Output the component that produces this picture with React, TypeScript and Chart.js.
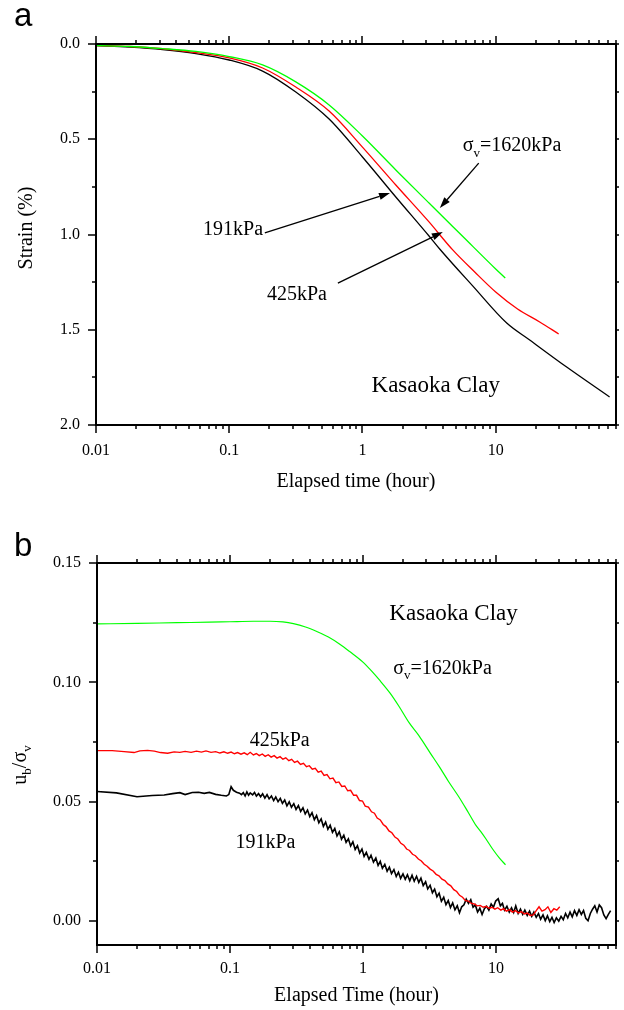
import React, { useEffect, useRef } from 'react';
import { Chart, registerables } from 'chart.js';
Chart.register(...registerables);

const SERIF = '"Liberation Serif", "Times New Roman", serif';
const SANS = '"Liberation Sans", Arial, sans-serif';
const GREEN = '#00ff00';
const RED = '#ff0000';
const BLACK = '#000000';

// ---- axis ticks ----
const xMajorTicks = [0.01, 0.1, 1, 10];
const xMinorTicks = [0.02, 0.03, 0.04, 0.05, 0.06, 0.07, 0.08, 0.09, 0.2, 0.3, 0.4, 0.5, 0.6, 0.7, 0.8, 0.9, 2, 3, 4, 5, 6, 7, 8, 9, 20, 30, 40, 50, 60, 70, 80];
const strainTicks = [0, 0.5, 1, 1.5, 2];
const strainMinorTicks = [0.25, 0.75, 1.25, 1.75];
const ratioTicks = [0, 0.05, 0.1, 0.15];
const ratioMinorTicks = [0.025, 0.075, 0.125];

// ---- panel a: strain (%) vs elapsed time (hour) ----
const aTime1620 = [0.01, 0.0178, 0.0316, 0.0562, 0.1, 0.178, 0.316, 0.562, 1, 1.78, 3.16, 5.62, 10, 11.8];
const aStrain1620 = [0.008, 0.013, 0.024, 0.039, 0.066, 0.11, 0.199, 0.32, 0.483, 0.661, 0.835, 1.008, 1.181, 1.228];
const aTime425 = [0.01, 0.0178, 0.0316, 0.0562, 0.1, 0.178, 0.316, 0.562, 1, 1.78, 3.16, 4.76, 6.96, 10, 14.6, 21.4, 29.7];
const aStrain425 = [0.008, 0.013, 0.025, 0.045, 0.073, 0.126, 0.226, 0.352, 0.541, 0.74, 0.934, 1.081, 1.197, 1.302, 1.391, 1.459, 1.522];
const aTime191 = [0.01, 0.0178, 0.0316, 0.0562, 0.1, 0.178, 0.316, 0.562, 1, 1.78, 3.16, 3.8, 6.72, 12.1, 18.0, 34.1, 71.6];
const aStrain191 = [0.008, 0.016, 0.029, 0.05, 0.084, 0.142, 0.252, 0.394, 0.593, 0.803, 1.008, 1.076, 1.27, 1.465, 1.554, 1.696, 1.853];

// ---- panel b: ub/σv vs elapsed time (hour) ----
const bTime1620 = [0.01, 0.02, 0.04, 0.07, 0.1, 0.15, 0.2, 0.25, 0.3, 0.37, 0.45, 0.55, 0.67, 0.8, 1, 1.15, 1.33, 1.6, 1.87, 2.23, 2.65, 3.2, 3.74, 4.4, 5.27, 6.2, 7.1, 7.7, 8.4, 9.5, 10.6, 11.8];
const bRatio1620 = [0.1245, 0.1247, 0.125, 0.1252, 0.1254, 0.1256, 0.1256, 0.1253, 0.1246, 0.1232, 0.1213, 0.119, 0.116, 0.1128, 0.1085, 0.105, 0.101, 0.0955, 0.0899, 0.083, 0.0775, 0.0705, 0.0648, 0.0585, 0.052, 0.0455, 0.04, 0.0375, 0.0345, 0.03, 0.0265, 0.0236];

const bTime425 = [0.01, 0.013, 0.016, 0.019, 0.021, 0.024, 0.027, 0.03, 0.034, 0.038, 0.042, 0.046, 0.051, 0.056, 0.061, 0.066, 0.072, 0.078, 0.084, 0.09, 0.096, 0.102, 0.108, 0.114, 0.121, 0.128, 0.135, 0.142, 0.15, 0.158, 0.166, 0.175, 0.184, 0.194, 0.204, 0.215, 0.226, 0.238, 0.25, 0.263, 0.277, 0.291, 0.306, 0.322, 0.339, 0.357, 0.376, 0.395, 0.416, 0.438, 0.461, 0.485, 0.51, 0.537, 0.565, 0.595, 0.626, 0.659, 0.693, 0.73, 0.768, 0.808, 0.851, 0.895, 0.942, 0.992, 1.04, 1.1, 1.16, 1.22, 1.28, 1.35, 1.42, 1.49, 1.57, 1.65, 1.74, 1.83, 1.93, 2.03, 2.13, 2.24, 2.36, 2.48, 2.61, 2.75, 2.89, 3.04, 3.2, 3.37, 3.55, 3.73, 3.93, 4.13, 4.35, 4.58, 4.82, 5.07, 5.33, 5.61, 5.9, 6.21, 6.54, 6.88, 7.24, 7.62, 8.02, 8.44, 8.88, 9.34, 9.83, 10.3, 10.9, 11.4, 12.0, 12.7, 13.3, 14.0, 14.8, 15.5, 16.4, 17.2, 18.1, 19.1, 20.1, 21.1, 22.2, 23.4, 24.6, 25.9, 27.3, 28.7, 30.2];
const bRatio425 = [0.0714, 0.0714, 0.071, 0.0706, 0.0713, 0.0715, 0.0712, 0.0706, 0.0703, 0.0709, 0.0707, 0.0711, 0.0707, 0.0712, 0.0708, 0.0713, 0.0707, 0.071, 0.0704, 0.0709, 0.0703, 0.0708, 0.0701, 0.0706, 0.0699, 0.0705, 0.0697, 0.0707, 0.0696, 0.0702, 0.0693, 0.07, 0.069, 0.0697, 0.0687, 0.0693, 0.0683, 0.0689, 0.0678, 0.0684, 0.0672, 0.0678, 0.0665, 0.067, 0.0656, 0.0661, 0.0647, 0.0651, 0.0636, 0.064, 0.0624, 0.0628, 0.061, 0.0614, 0.0596, 0.0599, 0.058, 0.0583, 0.0564, 0.0566, 0.0546, 0.0548, 0.0527, 0.0527, 0.0505, 0.0503, 0.0482, 0.0478, 0.0458, 0.0452, 0.0432, 0.0424, 0.0405, 0.0396, 0.0378, 0.037, 0.0352, 0.0344, 0.0326, 0.0318, 0.0302, 0.0296, 0.028, 0.0274, 0.026, 0.0252, 0.0238, 0.023, 0.0218, 0.021, 0.0196, 0.019, 0.0176, 0.017, 0.0156, 0.0148, 0.0132, 0.0124, 0.0108, 0.01, 0.0086, 0.0084, 0.0074, 0.0072, 0.0064, 0.0066, 0.0058, 0.0062, 0.0054, 0.0058, 0.005, 0.0056, 0.0046, 0.0052, 0.0042, 0.0048, 0.0038, 0.0044, 0.0034, 0.004, 0.003, 0.0034, 0.0024, 0.0026, 0.0044, 0.006, 0.0042, 0.0048, 0.006, 0.0036, 0.0052, 0.0046, 0.006];

const bTime191 = [0.01, 0.014, 0.02, 0.026, 0.032, 0.037, 0.042, 0.046, 0.052, 0.058, 0.064, 0.07, 0.078, 0.086, 0.094, 0.098, 0.102, 0.106, 0.112, 0.118, 0.122, 0.126, 0.13, 0.134, 0.138, 0.142, 0.148, 0.153, 0.158, 0.164, 0.17, 0.176, 0.183, 0.19, 0.197, 0.205, 0.213, 0.221, 0.23, 0.239, 0.248, 0.258, 0.268, 0.279, 0.29, 0.302, 0.314, 0.327, 0.34, 0.354, 0.368, 0.383, 0.398, 0.414, 0.431, 0.448, 0.466, 0.485, 0.504, 0.524, 0.545, 0.567, 0.59, 0.614, 0.638, 0.664, 0.69, 0.718, 0.747, 0.777, 0.808, 0.84, 0.874, 0.909, 0.945, 0.983, 1.02, 1.06, 1.11, 1.15, 1.2, 1.25, 1.3, 1.35, 1.4, 1.46, 1.52, 1.58, 1.64, 1.71, 1.78, 1.85, 1.92, 2.0, 2.08, 2.16, 2.25, 2.34, 2.43, 2.53, 2.63, 2.73, 2.84, 2.96, 3.07, 3.2, 3.33, 3.46, 3.6, 3.74, 3.89, 4.05, 4.21, 4.38, 4.55, 4.73, 4.92, 5.12, 5.32, 5.53, 5.75, 5.98, 6.22, 6.47, 6.73, 7.0, 7.28, 7.57, 7.87, 8.19, 8.51, 8.85, 9.21, 9.58, 9.96, 10.4, 10.8, 11.2, 11.6, 12.1, 12.6, 13.1, 13.6, 14.1, 14.7, 15.3, 15.9, 16.5, 17.2, 17.9, 18.6, 19.3, 20.1, 20.9, 21.7, 22.6, 23.5, 24.4, 25.4, 26.4, 27.4, 28.5, 29.7, 30.9, 32.1, 33.4, 34.7, 36.1, 37.5, 39.0, 40.6, 42.2, 43.9, 45.6, 47.4, 49.3, 51.3, 53.3, 55.4, 57.6, 59.9, 62.3, 64.8, 67.4, 70.1, 72.9];
const bRatio191 = [0.0543, 0.0537, 0.0521, 0.0526, 0.0528, 0.0534, 0.0538, 0.053, 0.0539, 0.054, 0.0535, 0.0539, 0.0531, 0.0527, 0.0524, 0.053, 0.0563, 0.0548, 0.054, 0.0536, 0.053, 0.0538, 0.0524, 0.0541, 0.0527, 0.0537, 0.0529, 0.0539, 0.0524, 0.0534, 0.0521, 0.0533, 0.0515, 0.053, 0.0512, 0.0524, 0.0505, 0.052, 0.05, 0.0514, 0.0493, 0.0507, 0.0483, 0.05, 0.0477, 0.0492, 0.0468, 0.0484, 0.0459, 0.0475, 0.0449, 0.0465, 0.0438, 0.0454, 0.0425, 0.0442, 0.0412, 0.0428, 0.0397, 0.0415, 0.0385, 0.0402, 0.0372, 0.0388, 0.0357, 0.0374, 0.0343, 0.036, 0.033, 0.0345, 0.0315, 0.0332, 0.03, 0.0316, 0.0285, 0.0302, 0.0271, 0.0288, 0.0259, 0.0276, 0.0247, 0.0264, 0.0233, 0.025, 0.0221, 0.0238, 0.0209, 0.0226, 0.0199, 0.0216, 0.0187, 0.0205, 0.0179, 0.0198, 0.0175, 0.0194, 0.0169, 0.0192, 0.0167, 0.0188, 0.0162, 0.018, 0.0149, 0.0165, 0.0135, 0.015, 0.0119, 0.0134, 0.0102, 0.0117, 0.0083, 0.01, 0.0069, 0.0086, 0.0057, 0.0076, 0.0047, 0.0064, 0.0035, 0.006, 0.0068, 0.0092, 0.0074, 0.009, 0.0058, 0.0068, 0.0038, 0.0054, 0.0028, 0.0052, 0.0062, 0.0046, 0.0072, 0.0058, 0.0084, 0.0094, 0.0064, 0.0074, 0.0046, 0.0062, 0.0038, 0.0056, 0.0036, 0.0064, 0.0032, 0.005, 0.0028, 0.0046, 0.0024, 0.0042, 0.002, 0.0038, 0.0016, 0.0032, 0.0008, 0.0026, 0.0002, 0.0022, -0.0002, 0.0016, -0.0006, 0.0014, 0.0, 0.002, 0.0006, 0.0032, 0.0014, 0.0038, 0.0018, 0.0044, 0.0024, 0.0048, 0.0028, 0.0044, 0.0012, 0.0002, 0.0032, 0.005, 0.0064, 0.0038, 0.0068, 0.0056, 0.0026, 0.001, 0.0028, 0.0044];

// ---- annotations (anchored in data units) ----
const annotA = {
  l191: { t: 0.0636, v: 1.003 },
  l425: { t: 0.192, v: 1.344 },
  l1620: { t: 5.66, v: 0.562 },
  clay: { t: 1.17, v: 1.826 },
  arrows: [
    { from: [0.185, 0.992], to: [1.61, 0.782] },
    { from: [0.654, 1.255], to: [4.01, 0.987] },
    { from: [7.46, 0.625], to: [3.81, 0.861] },
  ],
};
const annotB = {
  clay: { t: 1.58, v: 0.1261 },
  l1620: { t: 1.69, v: 0.1036 },
  l425: { t: 0.1406, v: 0.0735 },
  l191: { t: 0.11, v: 0.0305 },
};

const toPoints = (xs: number[], ys: number[]) => xs.map((x, i) => ({ x, y: ys[i] }));

function drawFrame(chart: any, yMajor: number[], yMinor: number[]) {
  const { ctx, chartArea: a, scales } = chart;
  const xs = scales.x, ys = scales.y;
  ctx.save();
  ctx.strokeStyle = '#000';
  ctx.lineWidth = 1.5;
  ctx.beginPath();
  for (const v of xMajorTicks) {
    const px = Math.round(xs.getPixelForValue(v));
    ctx.moveTo(px, a.bottom); ctx.lineTo(px, a.bottom + 8);
    ctx.moveTo(px, a.top); ctx.lineTo(px, a.top - 8);
  }
  for (const v of xMinorTicks) {
    const px = Math.round(xs.getPixelForValue(v));
    ctx.moveTo(px, a.bottom); ctx.lineTo(px, a.bottom + 4);
    ctx.moveTo(px, a.top); ctx.lineTo(px, a.top - 4);
  }
  for (const v of yMajor) {
    const py = Math.round(ys.getPixelForValue(v));
    ctx.moveTo(a.left, py); ctx.lineTo(a.left - 8, py);
    ctx.moveTo(a.right, py); ctx.lineTo(a.right + 3, py);
  }
  for (const v of yMinor) {
    const py = Math.round(ys.getPixelForValue(v));
    ctx.moveTo(a.left, py); ctx.lineTo(a.left - 4, py);
    ctx.moveTo(a.right, py); ctx.lineTo(a.right + 3, py);
  }
  ctx.stroke();
  ctx.lineWidth = 2;
  ctx.strokeRect(a.left, a.top, a.right - a.left, a.bottom - a.top);
  ctx.restore();
}

function drawSigmaLabel(ctx: CanvasRenderingContext2D, x: number, y: number, rest: string, size: number) {
  ctx.textAlign = 'left';
  ctx.textBaseline = 'alphabetic';
  ctx.font = `${size}px ${SERIF}`;
  ctx.fillText('σ', x, y);
  const w1 = ctx.measureText('σ').width;
  ctx.font = `${Math.round(size * 0.65)}px ${SERIF}`;
  ctx.fillText('v', x + w1, y + size * 0.28);
  const w2 = ctx.measureText('v').width;
  ctx.font = `${size}px ${SERIF}`;
  ctx.fillText(rest, x + w1 + w2, y);
}

function drawArrow(ctx: CanvasRenderingContext2D, x1: number, y1: number, x2: number, y2: number) {
  const ang = Math.atan2(y2 - y1, x2 - x1);
  const len = 11, hw = 3.6;
  const bx = x2 - len * Math.cos(ang), by = y2 - len * Math.sin(ang);
  ctx.beginPath();
  ctx.moveTo(x1, y1); ctx.lineTo(bx, by);
  ctx.lineWidth = 1.3;
  ctx.stroke();
  ctx.beginPath();
  ctx.moveTo(x2, y2);
  ctx.lineTo(bx + hw * Math.sin(ang), by - hw * Math.cos(ang));
  ctx.lineTo(bx - hw * Math.sin(ang), by + hw * Math.cos(ang));
  ctx.closePath();
  ctx.fill();
}

const panelAPlugin = {
  id: 'panelA',
  afterDatasetsDraw(chart: any) {
    drawFrame(chart, strainTicks, strainMinorTicks);
    const ctx: CanvasRenderingContext2D = chart.ctx;
    const xs = chart.scales.x, ys = chart.scales.y, a = chart.chartArea;
    const P = (t: number, v: number) => [xs.getPixelForValue(t), ys.getPixelForValue(v)];
    ctx.save();
    ctx.fillStyle = '#000';
    ctx.strokeStyle = '#000';
    ctx.textAlign = 'left';
    ctx.textBaseline = 'alphabetic';
    ctx.font = `20px ${SERIF}`;
    let p = P(annotA.l191.t, annotA.l191.v); ctx.fillText('191kPa', p[0], p[1]);
    p = P(annotA.l425.t, annotA.l425.v); ctx.fillText('425kPa', p[0], p[1]);
    p = P(annotA.l1620.t, annotA.l1620.v); drawSigmaLabel(ctx, p[0], p[1], '=1620kPa', 20);
    ctx.font = `23px ${SERIF}`;
    p = P(annotA.clay.t, annotA.clay.v); ctx.fillText('Kasaoka Clay', p[0], p[1]);
    for (const ar of annotA.arrows) {
      const f = P(ar.from[0], ar.from[1]); const t = P(ar.to[0], ar.to[1]);
      drawArrow(ctx, f[0], f[1], t[0], t[1]);
    }
    // axis titles
    ctx.font = `20px ${SERIF}`;
    ctx.textAlign = 'center';
    ctx.textBaseline = 'middle';
    ctx.fillText('Elapsed time (hour)', (a.left + a.right) / 2, 482);
    ctx.save();
    ctx.translate(32, 228);
    ctx.rotate(-Math.PI / 2);
    ctx.textBaseline = 'alphabetic';
    ctx.fillText('Strain (%)', 0, 0);
    ctx.restore();
    // panel letter
    ctx.font = `33px ${SANS}`;
    ctx.textAlign = 'left';
    ctx.textBaseline = 'alphabetic';
    ctx.fillText('a', 14, 26);
    ctx.restore();
  },
};

const panelBPlugin = {
  id: 'panelB',
  afterDatasetsDraw(chart: any) {
    drawFrame(chart, ratioTicks, ratioMinorTicks);
    const ctx: CanvasRenderingContext2D = chart.ctx;
    const xs = chart.scales.x, ys = chart.scales.y, a = chart.chartArea;
    const P = (t: number, v: number) => [xs.getPixelForValue(t), ys.getPixelForValue(v)];
    ctx.save();
    ctx.fillStyle = '#000';
    ctx.textAlign = 'left';
    ctx.textBaseline = 'alphabetic';
    ctx.font = `23px ${SERIF}`;
    let p = P(annotB.clay.t, annotB.clay.v); ctx.fillText('Kasaoka Clay', p[0], p[1]);
    p = P(annotB.l1620.t, annotB.l1620.v); drawSigmaLabel(ctx, p[0], p[1], '=1620kPa', 20);
    ctx.font = `20px ${SERIF}`;
    p = P(annotB.l425.t, annotB.l425.v); ctx.fillText('425kPa', p[0], p[1]);
    p = P(annotB.l191.t, annotB.l191.v); ctx.fillText('191kPa', p[0], p[1]);
    // x title
    ctx.textAlign = 'center';
    ctx.textBaseline = 'middle';
    ctx.fillText('Elapsed Time (hour)', (a.left + a.right) / 2, 491);
    // y title: u_b / σ_v
    ctx.save();
    ctx.translate(26, 260);
    ctx.rotate(-Math.PI / 2);
    ctx.textAlign = 'left';
    ctx.textBaseline = 'alphabetic';
    const big = `20px ${SERIF}`, small = `13px ${SERIF}`;
    const parts: [string, string, number][] = [['u', big, 0], ['b', small, 5], ['/', big, 0], ['σ', big, 0], ['v', small, 5]];
    let total = 0;
    const widths = parts.map(([s, f]) => { ctx.font = f; const w = ctx.measureText(s).width; total += w; return w; });
    let cx = -total / 2;
    parts.forEach(([s, f, dy], i) => { ctx.font = f; ctx.fillText(s, cx, dy); cx += widths[i]; });
    ctx.restore();
    // panel letter
    ctx.font = `33px ${SANS}`;
    ctx.textAlign = 'left';
    ctx.fillText('b', 14, 42);
    ctx.restore();
  },
};

const baseX = (height: number, padding: number) => ({
  type: 'logarithmic' as const,
  min: 0.01,
  max: 80,
  afterBuildTicks: (s: any) => { s.ticks = xMajorTicks.map((v) => ({ value: v })); },
  afterFit: (s: any) => { s.height = height; },
  grid: { display: false, drawTicks: false },
  border: { display: false },
  ticks: {
    autoSkip: false, maxRotation: 0, minRotation: 0, padding, color: '#000',
    font: { family: SERIF, size: 16 },
    callback: (v: any) => String(v),
  },
});

function lineDs(label: string, xs: number[], ys: number[], color: string, width: number, smooth: boolean) {
  return {
    label,
    data: toPoints(xs, ys),
    borderColor: color,
    backgroundColor: color,
    borderWidth: width,
    pointRadius: 0,
    fill: false,
    cubicInterpolationMode: smooth ? ('monotone' as const) : ('default' as const),
    tension: 0,
  };
}

export default function App() {
  const refA = useRef<HTMLCanvasElement>(null);
  const refB = useRef<HTMLCanvasElement>(null);
  useEffect(() => {
    const common = {
      animation: false as const,
      responsive: false,
      devicePixelRatio: 1,
      plugins: { legend: { display: false }, tooltip: { enabled: false } },
    };
    const chartA = new Chart(refA.current!, {
      type: 'line',
      data: {
        datasets: [
          lineDs('σv=1620kPa', aTime1620, aStrain1620, GREEN, 1.3, true),
          lineDs('425kPa', aTime425, aStrain425, RED, 1.3, true),
          lineDs('191kPa', aTime191, aStrain191, BLACK, 1.3, true),
        ],
      },
      options: {
        ...common,
        layout: { padding: { top: 44, right: 8, left: 0, bottom: 0 } },
        scales: {
          x: baseX(80, 16),
          y: {
            type: 'linear', min: 0, max: 2, reverse: true,
            afterBuildTicks: (s: any) => { s.ticks = strainTicks.map((v) => ({ value: v })); },
            afterFit: (s: any) => { s.width = 96; },
            grid: { display: false, drawTicks: false },
            border: { display: false },
            ticks: { padding: 16, color: '#000', font: { family: SERIF, size: 16 }, callback: (v: any) => Number(v).toFixed(1) },
          },
        },
      } as any,
      plugins: [panelAPlugin],
    });
    const chartB = new Chart(refB.current!, {
      type: 'line',
      data: {
        datasets: [
          lineDs('σv=1620kPa', bTime1620, bRatio1620, GREEN, 1.2, true),
          lineDs('425kPa', bTime425, bRatio425, RED, 1.4, false),
          lineDs('191kPa', bTime191, bRatio191, BLACK, 1.6, false),
        ],
      },
      options: {
        ...common,
        layout: { padding: { top: 58, right: 8, left: 0, bottom: 0 } },
        scales: {
          x: baseX(65, 14),
          y: {
            type: 'linear', min: -0.01, max: 0.15,
            afterBuildTicks: (s: any) => { s.ticks = ratioTicks.map((v) => ({ value: v })); },
            afterFit: (s: any) => { s.width = 97; },
            grid: { display: false, drawTicks: false },
            border: { display: false },
            ticks: { padding: 16, color: '#000', font: { family: SERIF, size: 16 }, callback: (v: any) => Number(v).toFixed(2) },
          },
        },
      } as any,
      plugins: [panelBPlugin],
    });
    return () => { chartA.destroy(); chartB.destroy(); };
  }, []);
  return (
    <div style={{ position: 'absolute', left: 0, top: 0, width: 624, height: 1010, background: '#fff' }}>
      <canvas ref={refA} width={624} height={505} style={{ display: 'block', width: 624, height: 505 }} />
      <canvas ref={refB} width={624} height={505} style={{ display: 'block', width: 624, height: 505 }} />
    </div>
  );
}
